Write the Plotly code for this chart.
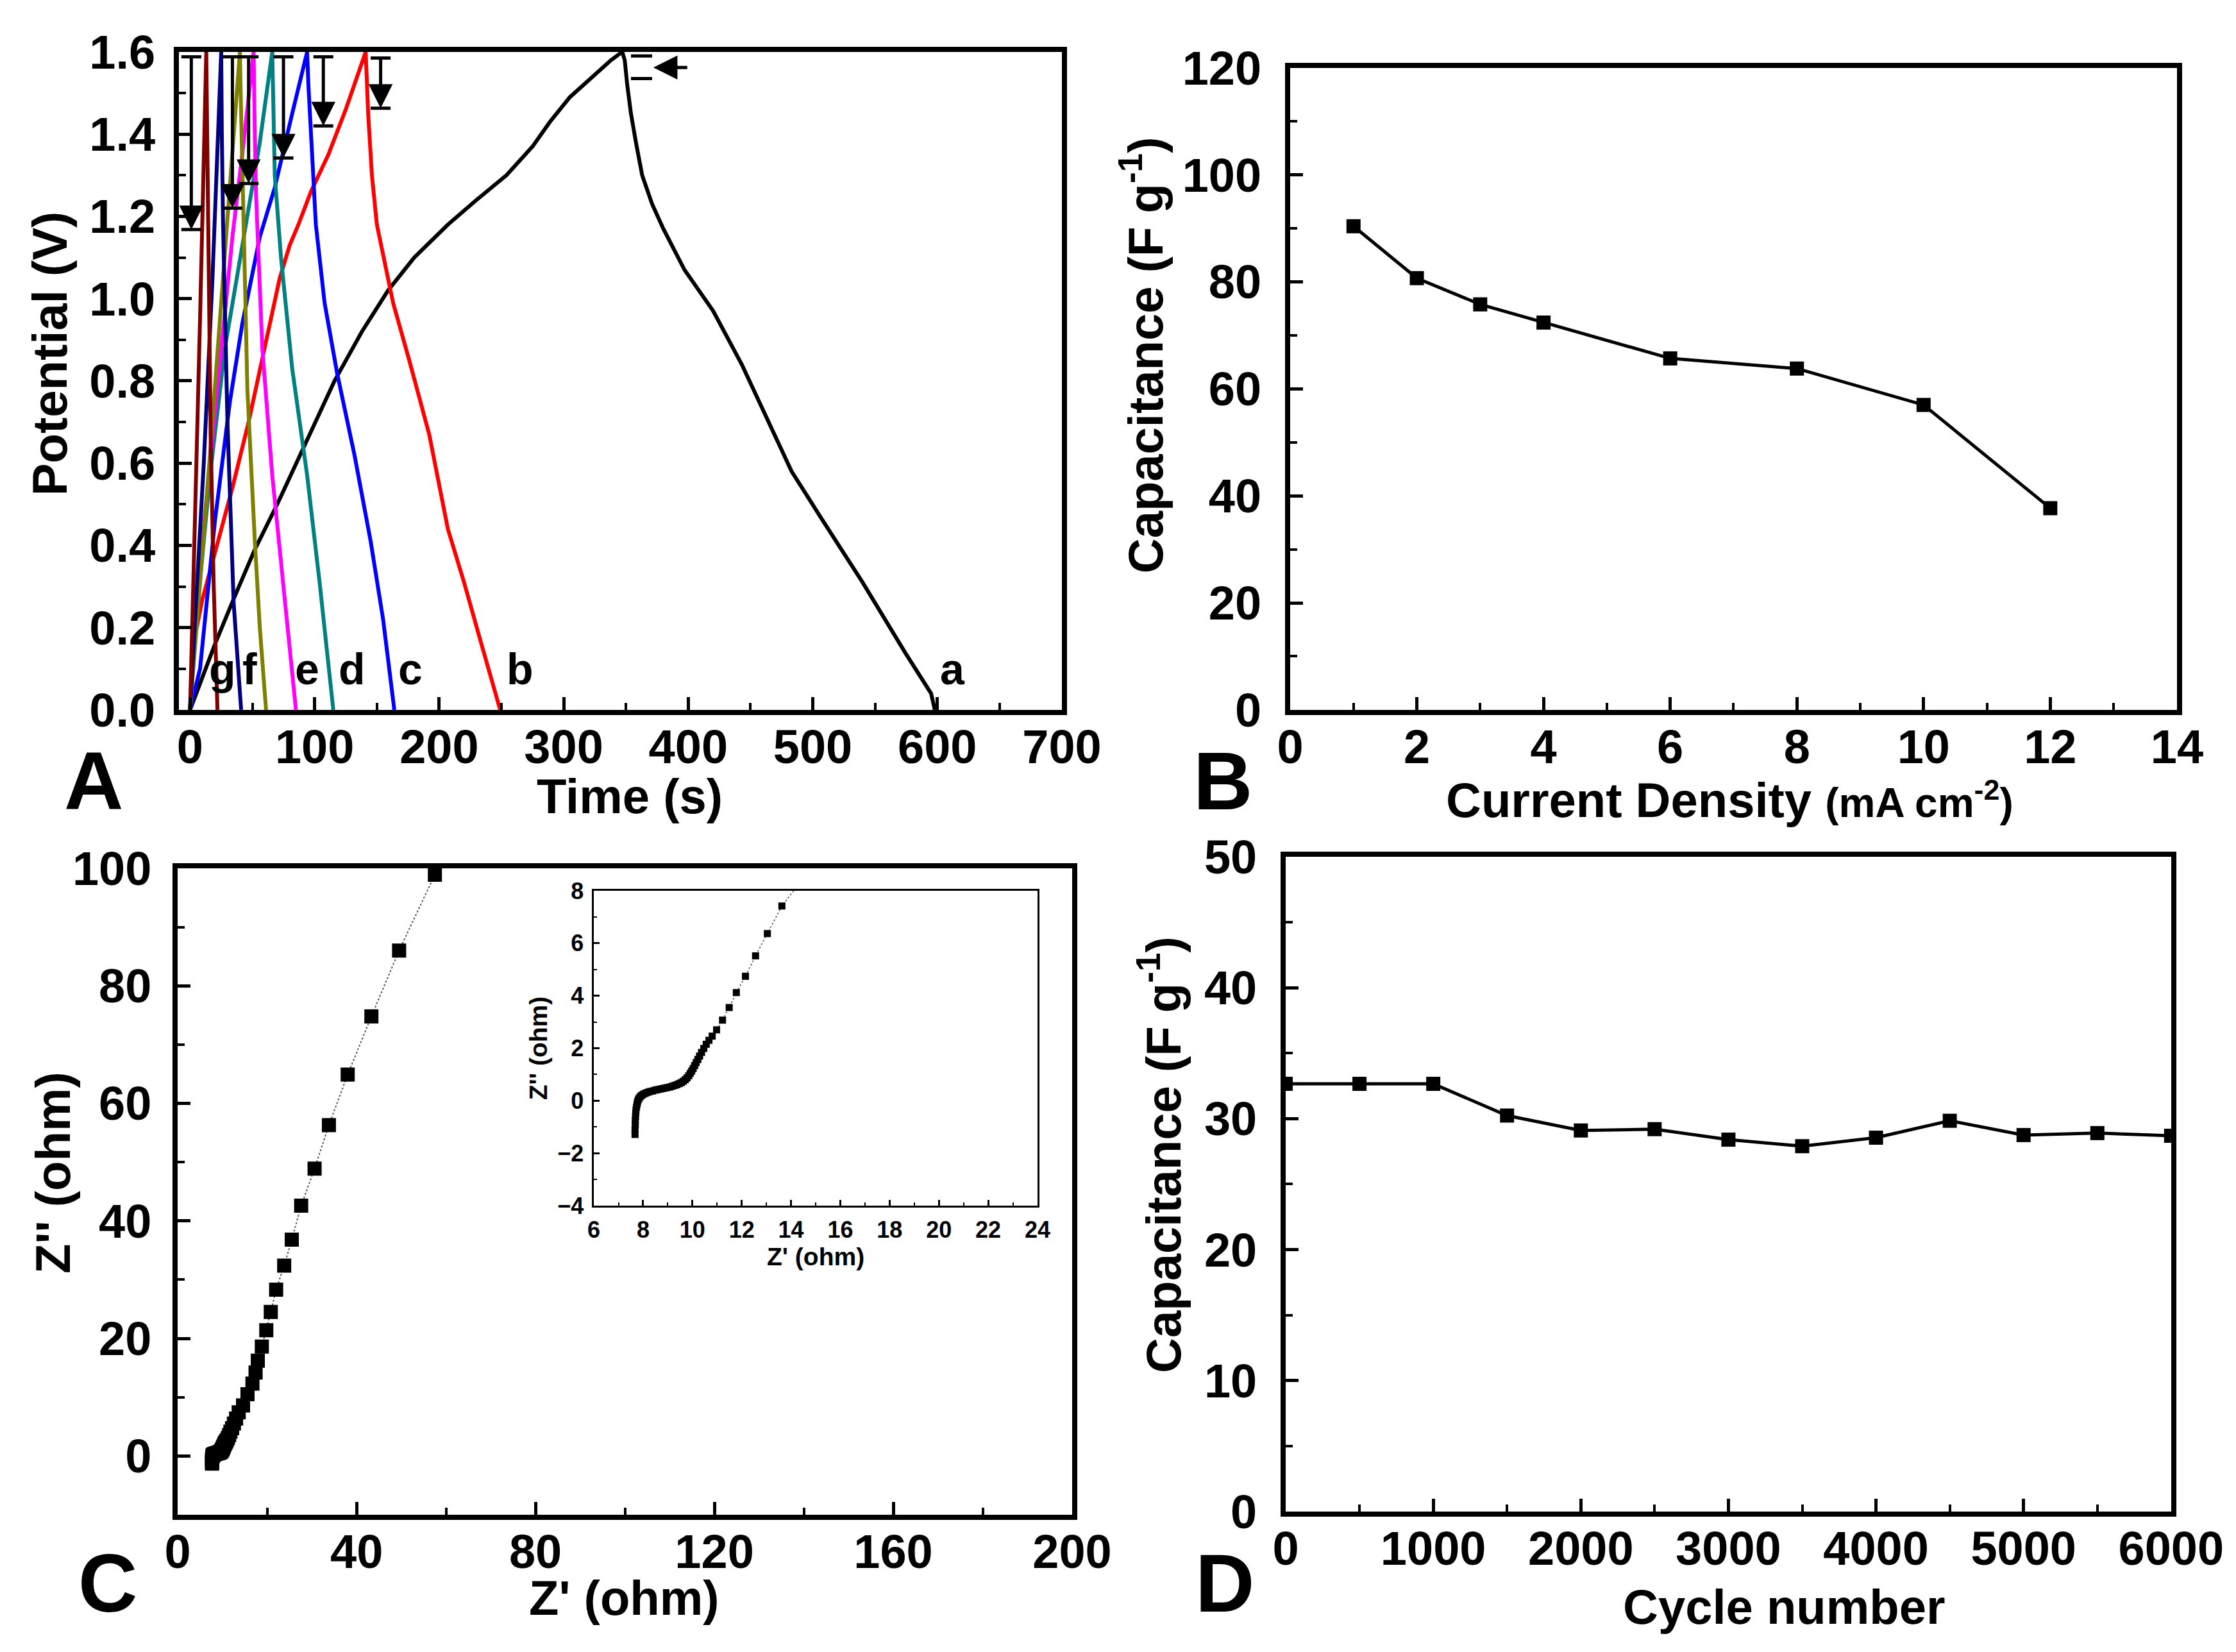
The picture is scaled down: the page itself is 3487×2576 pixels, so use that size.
import plotly.graph_objects as go

# ---- panel A: galvanostatic charge/discharge curves ----
t_a = [0, 10, 20, 35, 52, 70, 90, 116, 138, 159, 180, 207, 230, 254, 275, 289, 305, 323, 338, 347,
       349, 351, 354, 358, 363, 371, 380, 397, 420, 443, 460, 483, 506, 540, 574, 595, 598]
v_a = [0, 0.08, 0.16, 0.27, 0.39, 0.50, 0.63, 0.80, 0.92, 1.02, 1.10, 1.18, 1.24, 1.30, 1.37, 1.43, 1.49, 1.54, 1.58, 1.60,
       1.58, 1.52, 1.45, 1.38, 1.30, 1.23, 1.17, 1.07, 0.97, 0.84, 0.73, 0.58, 0.47, 0.31, 0.14, 0.04, 0.0]
t_b = [0, 2, 10, 18, 26, 34, 47, 60, 72, 80, 87, 97, 111, 125, 141,
       143, 146, 150, 156, 163, 176, 192, 207, 220, 233, 249]
v_b = [0, 0.15, 0.27, 0.36, 0.45, 0.54, 0.70, 0.88, 1.05, 1.13, 1.18, 1.26, 1.35, 1.46, 1.60,
       1.45, 1.30, 1.18, 1.09, 0.99, 0.85, 0.67, 0.44, 0.31, 0.17, 0.0]
t_c = [0, 4, 8, 14, 20, 32, 42, 56, 68, 82, 94,
       95, 97, 101, 108, 118, 132, 145, 155, 164]
v_c = [0, 0.05, 0.10, 0.28, 0.46, 0.75, 0.94, 1.15, 1.27, 1.45, 1.60,
       1.52, 1.41, 1.18, 0.99, 0.82, 0.62, 0.41, 0.22, 0.0]
t_d = [0, 6, 16, 28, 42, 56, 66, 67, 68, 73, 82, 94, 104, 115]
v_d = [0, 0.25, 0.57, 0.88, 1.13, 1.38, 1.60, 1.45, 1.30, 1.10, 0.83, 0.57, 0.31, 0.0]
t_e = [0, 5, 15, 25, 34, 43, 51, 52, 53, 58, 66, 75, 85]
v_e = [0, 0.25, 0.57, 0.88, 1.15, 1.38, 1.60, 1.40, 1.25, 0.88, 0.57, 0.30, 0.0]
t_f = [0, 8, 16, 24, 32, 40, 41, 42, 46, 52, 56, 61]
v_f = [0, 0.30, 0.62, 0.95, 1.28, 1.60, 1.45, 1.30, 0.78, 0.41, 0.20, 0.0]
t_g = [0, 5, 11, 18, 25, 25.5, 26.5, 30, 35, 41]
v_g = [0, 0.28, 0.60, 1.05, 1.60, 1.40, 1.18, 0.70, 0.26, 0.0]
t_h = [0, 4, 8, 13, 13.5, 14.5, 16.5, 19, 22]
v_h = [0, 0.45, 0.95, 1.60, 1.40, 1.20, 0.67, 0.30, 0.0]

gcd_curves = [(t_a, v_a, "black"), (t_b, v_b, "#FF0000"), (t_c, v_c, "#0000FF"),
              (t_d, v_d, "#008080"), (t_e, v_e, "#FF00FF"), (t_f, v_f, "#808000"),
              (t_g, v_g, "#000080"), (t_h, v_h, "#800000")]

curve_labels = ["g", "f", "e", "d", "c", "b", "a"]
curve_label_t = [26, 48, 94, 130, 177, 265, 612]
curve_label_v = 0.1

# IR drop arrows
arrow_t = [1, 34, 47, 75, 107, 153]
arrow_top = [1.588, 1.588, 1.588, 1.588, 1.588, 1.585]
arrow_bottom = [1.168, 1.22, 1.28, 1.342, 1.42, 1.463]

# ---- panel B: capacitance vs current density ----
current_density = [1, 2, 3, 4, 6, 8, 10, 12]
cap_rate = [90.4, 80.7, 75.8, 72.4, 65.7, 63.8, 57.0, 37.7]

# ---- panel C: Nyquist plot ----
z_real = [7.67, 7.67, 7.68, 7.68, 7.69, 7.70, 7.71, 7.73, 7.75, 7.77, 7.80, 7.84, 7.89, 7.95, 8.02,
          8.10, 8.19, 8.28, 8.38, 8.48, 8.58, 8.68, 8.78, 8.88, 8.98, 9.08, 9.18, 9.28, 9.37, 9.46,
          9.55, 9.63, 9.71, 9.78, 9.85, 9.91, 9.97, 10.03, 10.09, 10.15, 10.22, 10.29, 10.37, 10.46,
          10.56, 10.67, 10.80, 10.98, 11.22, 11.49, 11.78, 12.15, 12.56, 13.04, 13.63, 14.6, 15.6,
          16.7, 17.4, 17.9, 18.8, 19.8, 20.8, 22.0, 23.8, 25.5, 27.6, 30.6, 33.8, 38.0, 43.3, 49.5,
          57.5, 66.5]
z_imag = [-1.29, -1.10, -0.92, -0.76, -0.61, -0.47, -0.35, -0.24, -0.14, -0.05, 0.03, 0.10, 0.16, 0.21, 0.25,
          0.29, 0.32, 0.35, 0.37, 0.40, 0.42, 0.44, 0.46, 0.48, 0.50, 0.52, 0.55, 0.58, 0.61, 0.65,
          0.69, 0.74, 0.80, 0.87, 0.95, 1.04, 1.13, 1.23, 1.34, 1.45, 1.57, 1.70, 1.84, 1.99,
          2.15, 2.30, 2.46, 2.70, 3.07, 3.55, 4.12, 4.74, 5.52, 6.37, 7.42, 8.6, 10.5,
          12.3, 14.2, 16.2, 18.6, 21.4, 24.5, 28.3, 32.4, 36.8, 42.6, 48.9, 56.3, 64.9, 74.8, 86.0,
          98.9, 113.5]

# ---- panel D: cycling stability ----
cycles = [0, 500, 1000, 1500, 2000, 2500, 3000, 3500, 4000, 4500, 5000, 5500, 6000]
cap_cycle = [32.66, 32.66, 32.66, 30.24, 29.1, 29.2, 28.4, 27.9, 28.55, 29.84, 28.75, 28.9, 28.7]

FONT = "Liberation Sans, Arial, sans-serif"
TITLE_SIZE = 76


def axis(domain, rng, dtick, minor, anchor, title="", tick_size=74, title_size=TITLE_SIZE, lw=8,
         tl=20, tw=5, ml=11, lab_off=0, fmt=None, title_standoff=16):
    d = dict(domain=domain, range=rng, dtick=dtick, tick0=0, anchor=anchor, automargin=False,
             showline=True, linewidth=lw, linecolor="black", mirror=True,
             ticks="inside", ticklen=tl, tickwidth=tw, tickcolor="black",
             showgrid=False, zeroline=False, ticklabelstandoff=lab_off,
             tickfont=dict(family=FONT, size=tick_size, color="black", weight="bold"),
             minor=dict(dtick=minor, ticks="inside", ticklen=ml, tickwidth=tw - 1,
                        tickcolor="black", showgrid=False),
             title=dict(text=title, standoff=title_standoff,
                        font=dict(family=FONT, size=title_size, color="black", weight="bold")))
    if fmt:
        d["tickformat"] = fmt
    return d


fig = go.Figure()

for t, v, col in gcd_curves:
    fig.add_trace(go.Scatter(x=t, y=v, mode="lines", line=dict(color=col, width=6),
                             xaxis="x", yaxis="y", showlegend=False))

fig.add_trace(go.Scatter(x=current_density, y=cap_rate, mode="lines+markers",
                         line=dict(color="black", width=5),
                         marker=dict(symbol="square", size=22, color="black"),
                         xaxis="x2", yaxis="y2", showlegend=False))

fig.add_trace(go.Scatter(x=z_real, y=z_imag, mode="lines+markers",
                         line=dict(color="#555555", width=2, dash="dot"),
                         marker=dict(symbol="square", size=22, color="black"),
                         xaxis="x3", yaxis="y3", showlegend=False))

fig.add_trace(go.Scatter(x=cycles, y=cap_cycle, mode="lines+markers",
                         line=dict(color="black", width=5),
                         marker=dict(symbol="square", size=22, color="black"),
                         xaxis="x4", yaxis="y4", showlegend=False))

fig.add_trace(go.Scatter(x=z_real, y=z_imag, mode="lines+markers",
                         line=dict(color="#555555", width=1.5, dash="dot"),
                         marker=dict(symbol="square", size=11, color="black"),
                         xaxis="x5", yaxis="y5", showlegend=False))

annotations = []
shapes = []

# IR drop arrows on panel A
for t, top, bot in zip(arrow_t, arrow_top, arrow_bottom):
    for vv in (top, bot):
        shapes.append(dict(type="line", xref="x", yref="y", x0=t - 8, x1=t + 8, y0=vv, y1=vv,
                           line=dict(color="black", width=5)))
    annotations.append(dict(x=t, y=bot, ax=t, ay=top, xref="x", yref="y", axref="x", ayref="y",
                            text="", showarrow=True, arrowhead=2, arrowsize=1.5, arrowwidth=5,
                            arrowcolor="black", standoff=0, startstandoff=0))
# horizontal arrow for curve a
for vv in (1.59, 1.535):
    shapes.append(dict(type="line", xref="x", yref="y", x0=354, x1=371, y0=vv, y1=vv,
                       line=dict(color="black", width=5)))
annotations.append(dict(x=372, y=1.562, ax=400, ay=1.562, xref="x", yref="y", axref="x", ayref="y",
                        text="", showarrow=True, arrowhead=2, arrowsize=1.5, arrowwidth=5,
                        arrowcolor="black", standoff=0))

for lab, t in zip(curve_labels, curve_label_t):
    annotations.append(dict(x=t, y=curve_label_v, xref="x", yref="y", text=lab, showarrow=False,
                            font=dict(family=FONT, size=68, color="black", weight="bold")))

for lab, px, py in [("A", 0.0396, 0.5303), ("B", 0.5445, 0.5303), ("C", 0.0459, 0.045), ("D", 0.5455, 0.045)]:
    annotations.append(dict(x=px, y=py, xref="paper", yref="paper", text=lab, showarrow=False,
                            xanchor="center", yanchor="middle",
                            font=dict(family=FONT, size=128, color="black", weight="bold")))

# axis titles of the four main panels (placed as in the original figure, not centred)
axis_titles = [
    ("Time (s)", 0.2793, 0.521, 0),
    ("Potential (V)", 0.0198, 0.7888, -90),
    ("Current Density <span style='font-size:64px'>(mA cm<sup>-2</sup>)</span>", 0.7714, 0.519, 0),
    ("Capacitance (F g<sup>-1</sup>)", 0.5085, 0.788, -90),
    ("Z' (ohm)", 0.2768, 0.036, 0),
    ("Z'' (ohm)", 0.0215, 0.2935, -90),
    ("Cycle number", 0.7958, 0.0305, 0),
    ("Capacitance (F g<sup>-1</sup>)", 0.5165, 0.304, -90),
]
for text, px, py, ang in axis_titles:
    annotations.append(dict(x=px, y=py, xref="paper", yref="paper", text=text, showarrow=False,
                            xanchor="center", yanchor="middle", textangle=ang,
                            font=dict(family=FONT, size=TITLE_SIZE, color="black", weight="bold")))

fig.update_layout(
    width=3487, height=2576,
    margin=dict(l=0, r=0, t=0, b=0, autoexpand=False),
    paper_bgcolor="white", plot_bgcolor="white",
    showlegend=False,
    xaxis=axis([0.0777, 0.4726], [-9, 700], 100, 50, "y", lab_off=-14),
    yaxis=axis([0.5734, 0.9717], [0, 1.6], 0.2, 0.1, "x", fmt=".1f", lab_off=14),
    xaxis2=axis([0.5747, 0.9713], [0, 14], 2, 1, "y2", lab_off=-14),
    yaxis2=axis([0.5734, 0.962], [0, 120], 20, 10, "x2", lab_off=22),
    xaxis3=axis([0.0772, 0.4772], [0, 200], 40, 20, "y3", lab_off=-14),
    yaxis3=axis([0.0862, 0.4775], [-10, 100], 20, 10, "x3", lab_off=18),
    xaxis4=axis([0.5727, 0.9687], [0, 6000], 1000, 500, "y4", lab_off=-14),
    yaxis4=axis([0.0881, 0.4845], [0, 50], 10, 5, "x4", lab_off=22),
    xaxis5=axis([0.2633, 0.4617], [6, 24], 2, 1, "y5", "Z' (ohm)", tick_size=36, title_size=39,
                lw=2.5, tl=9, tw=3, ml=5, lab_off=4, title_standoff=6),
    yaxis5=axis([0.2733, 0.4639], [-4, 8], 2, 1, "x5", "Z'' (ohm)", tick_size=36, title_size=39,
                lw=2.5, tl=9, tw=3, ml=5, lab_off=6, title_standoff=4),
    annotations=annotations,
    shapes=shapes,
)

fig.write_html("out.html")
